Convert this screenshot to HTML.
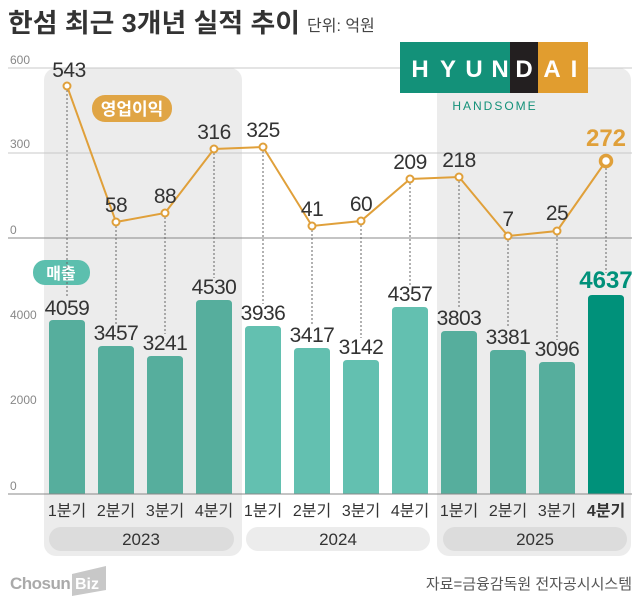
<!DOCTYPE html>
<html><head><meta charset="utf-8"><style>
body{margin:0;background:#fff;}
svg text{font-family:"Liberation Sans","Noto Sans CJK KR",sans-serif;}
</style></head><body>
<svg width="640" height="610" viewBox="0 0 640 610" xmlns="http://www.w3.org/2000/svg">
<rect width="640" height="610" fill="#fff"/>
<rect x="44" y="68" width="198" height="488" rx="12" fill="#ececec"/>
<rect x="437" y="68" width="194" height="488" rx="12" fill="#ececec"/>
<line x1="8" y1="68" x2="632" y2="68" stroke="#c8c8c8" stroke-width="1"/>
<line x1="8" y1="153" x2="632" y2="153" stroke="#c8c8c8" stroke-width="1"/>
<line x1="8" y1="238" x2="632" y2="238" stroke="#888" stroke-width="1"/>
<g font-size="12" fill="#888">
<text x="10" y="64">600</text><text x="10" y="148">300</text><text x="10" y="234">0</text>
<text x="10" y="319">4000</text><text x="10" y="404">2000</text><text x="10" y="490">0</text>
</g>
<text x="8" y="32" font-size="26" font-weight="bold" fill="#333" textLength="292" lengthAdjust="spacingAndGlyphs">한섬 최근 3개년 실적 추이</text>
<text x="307" y="31" font-size="16" fill="#444">단위: 억원</text>
<rect x="400" y="42" width="110" height="51" fill="#139179"/>
<rect x="510" y="42" width="28" height="51" fill="#231f20"/>
<rect x="538" y="42" width="50" height="51" fill="#e19d2f"/>
<g font-size="24" fill="#fff" text-anchor="middle" font-weight="600">
<text x="420" y="77">H</text><text x="448" y="77">Y</text><text x="474" y="77">U</text><text x="500" y="77">N</text><text x="524" y="77">D</text><text x="552" y="77">A</text><text x="574" y="77">I</text>
</g>
<text x="495" y="110" font-size="12" fill="#139179" text-anchor="middle" letter-spacing="2">HANDSOME</text>
<rect x="92" y="95" width="80" height="27" rx="13" fill="#e0a545"/>
<text x="132" y="115" font-size="17" font-weight="bold" fill="#fff" text-anchor="middle">영업이익</text>
<rect x="33" y="260" width="57" height="25" rx="12" fill="#5cbfae"/>
<text x="61" y="279" font-size="16" font-weight="bold" fill="#fff" text-anchor="middle">매출</text>
<g stroke="#666" stroke-width="1" stroke-dasharray="2,2">
<line x1="67" y1="90" x2="67" y2="298"/>
<line x1="116" y1="226" x2="116" y2="324"/>
<line x1="165" y1="217" x2="165" y2="334"/>
<line x1="214" y1="153" x2="214" y2="278"/>
<line x1="263" y1="151" x2="263" y2="304"/>
<line x1="312" y1="230" x2="312" y2="326"/>
<line x1="361" y1="225" x2="361" y2="338"/>
<line x1="410" y1="183" x2="410" y2="285"/>
<line x1="459" y1="181" x2="459" y2="309"/>
<line x1="508" y1="240" x2="508" y2="328"/>
<line x1="557" y1="235" x2="557" y2="340"/>
<line x1="606" y1="168" x2="606" y2="273"/>
</g>
<g>
<path d="M49 494V324q0-4 4-4h28q4 0 4 4V494z" fill="#56ae9d"/>
<path d="M98 494V350q0-4 4-4h28q4 0 4 4V494z" fill="#56ae9d"/>
<path d="M147 494V360q0-4 4-4h28q4 0 4 4V494z" fill="#56ae9d"/>
<path d="M196 494V304q0-4 4-4h28q4 0 4 4V494z" fill="#56ae9d"/>
<path d="M245 494V330q0-4 4-4h28q4 0 4 4V494z" fill="#63c0b0"/>
<path d="M294 494V352q0-4 4-4h28q4 0 4 4V494z" fill="#63c0b0"/>
<path d="M343 494V364q0-4 4-4h28q4 0 4 4V494z" fill="#63c0b0"/>
<path d="M392 494V311q0-4 4-4h28q4 0 4 4V494z" fill="#63c0b0"/>
<path d="M441 494V335q0-4 4-4h28q4 0 4 4V494z" fill="#56ae9d"/>
<path d="M490 494V354q0-4 4-4h28q4 0 4 4V494z" fill="#56ae9d"/>
<path d="M539 494V366q0-4 4-4h28q4 0 4 4V494z" fill="#56ae9d"/>
<path d="M588 494V299q0-4 4-4h28q4 0 4 4V494z" fill="#00917a"/>
</g>
<line x1="8" y1="494" x2="632" y2="494" stroke="#888" stroke-width="1"/>
<g font-size="21" fill="#333" text-anchor="middle" letter-spacing="-0.5">
<text x="67" y="315">4059</text><text x="116" y="340">3457</text><text x="165" y="350">3241</text><text x="214" y="294">4530</text>
<text x="263" y="320">3936</text><text x="312" y="342">3417</text><text x="361" y="354">3142</text><text x="410" y="301">4357</text>
<text x="459" y="325">3803</text><text x="508" y="344">3381</text><text x="557" y="356">3096</text>
</g>
<text x="606" y="288" font-size="24" font-weight="bold" fill="#00917a" text-anchor="middle">4637</text>
<polyline points="67,86 116,222 165,213 214,149 263,147 312,226 361,221 410,179 459,177 508,236 557,231 606,161" fill="none" stroke="#e0a03a" stroke-width="2"/>
<g fill="#fff" stroke="#e0a03a" stroke-width="2">
<circle cx="67" cy="86" r="3.5"/><circle cx="116" cy="222" r="3.5"/><circle cx="165" cy="213" r="3.5"/><circle cx="214" cy="149" r="3.5"/>
<circle cx="263" cy="147" r="3.5"/><circle cx="312" cy="226" r="3.5"/><circle cx="361" cy="221" r="3.5"/><circle cx="410" cy="179" r="3.5"/>
<circle cx="459" cy="177" r="3.5"/><circle cx="508" cy="236" r="3.5"/><circle cx="557" cy="231" r="3.5"/>
<circle cx="606" cy="161" r="5.5" stroke-width="3.5"/>
</g>
<g font-size="21" fill="#333" text-anchor="middle" letter-spacing="-0.5">
<text x="69" y="77">543</text><text x="116" y="212">58</text><text x="165" y="203">88</text><text x="214" y="139">316</text>
<text x="263" y="137">325</text><text x="312" y="216">41</text><text x="361" y="211">60</text><text x="410" y="169">209</text>
<text x="459" y="167">218</text><text x="508" y="226">7</text><text x="557" y="220">25</text>
</g>
<text x="606" y="146" font-size="24" font-weight="bold" fill="#e0a03a" text-anchor="middle">272</text>
<g font-size="16" fill="#333" text-anchor="middle">
<text x="67" y="516">1분기</text><text x="116" y="516">2분기</text><text x="165" y="516">3분기</text><text x="214" y="516">4분기</text>
<text x="263" y="516">1분기</text><text x="312" y="516">2분기</text><text x="361" y="516">3분기</text><text x="410" y="516">4분기</text>
<text x="459" y="516">1분기</text><text x="508" y="516">2분기</text><text x="557" y="516">3분기</text>
<text x="606" y="516" font-weight="bold">4분기</text>
</g>
<rect x="49" y="527" width="185" height="24" rx="12" fill="#dcdcdc"/>
<rect x="246" y="527" width="184" height="24" rx="12" fill="#ececec"/>
<rect x="443" y="527" width="184" height="24" rx="12" fill="#dcdcdc"/>
<g font-size="17" fill="#333" text-anchor="middle">
<text x="141" y="545">2023</text><text x="338" y="545">2024</text><text x="535" y="545">2025</text>
</g>
<text x="10" y="589" font-size="17" font-weight="bold" fill="#aaa" letter-spacing="-0.5">Chosun</text>
<path d="M72 574 L106 566 L106 590 L72 596z" fill="#c8c8c8"/>
<text x="75" y="589" font-size="16" font-weight="bold" fill="#fff">Biz</text>
<text x="632" y="589" font-size="15" fill="#555" text-anchor="end">자료=금융감독원 전자공시시스템</text>
</svg>
</body></html>
